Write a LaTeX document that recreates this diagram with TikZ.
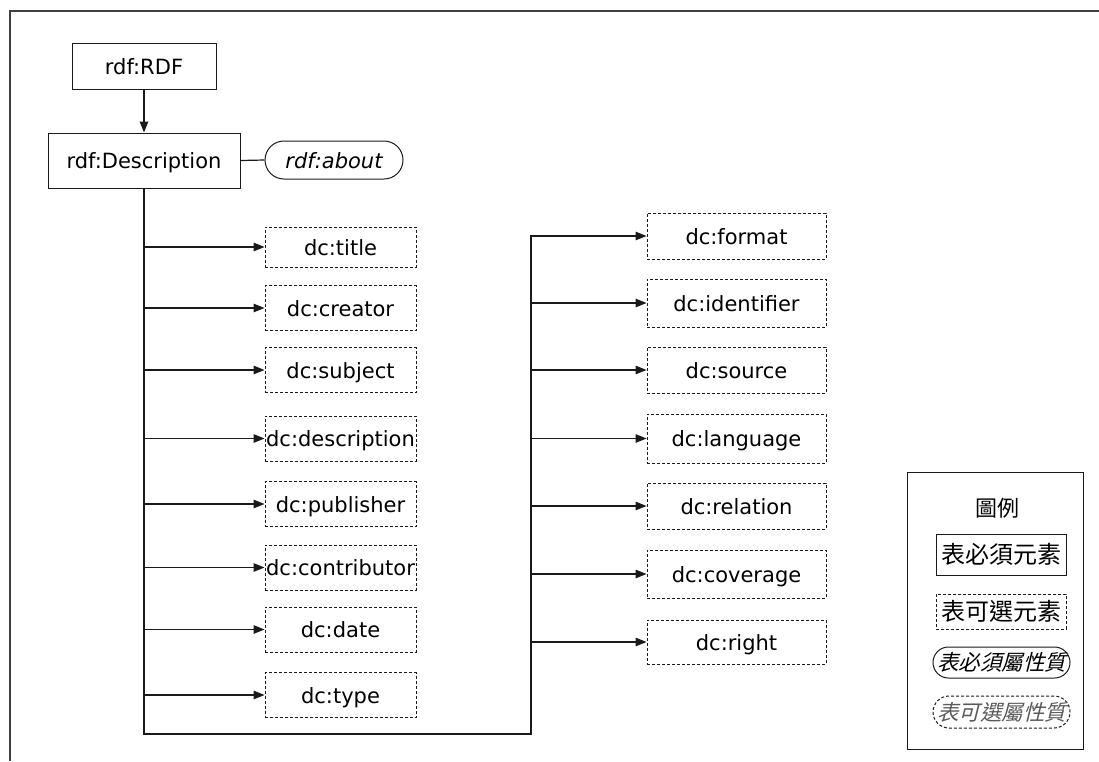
\documentclass[tikz,border=0pt]{standalone}
\usepackage{fontspec}
\setmainfont{DejaVu Sans}
\newfontfamily\cjk{Noto Sans CJK TC}
\newfontfamily\cjkit[FakeSlant=0.25]{Noto Sans CJK TC}
\usetikzlibrary{arrows.meta}
\definecolor{framec}{HTML}{404040}
\definecolor{lnc}{HTML}{1A1A1A}
\definecolor{greyt}{HTML}{5A5A5A}
\begin{document}
\begin{tikzpicture}[x=1pt,y=-1pt,
  every node/.style={inner sep=0pt, font=\fontsize{21}{25}\selectfont},
  lat/.style={text height=16pt, text depth=0pt},
  solidbox/.style={draw=lnc, line width=1pt, rectangle},
  optbox/.style={draw=lnc, line width=0.9pt, dash pattern=on 3pt off 2pt, rectangle},
  leftbox/.style={optbox, lat, minimum width=151pt, minimum height=45pt},
  rightbox/.style={optbox, lat, minimum width=179pt, minimum height=46pt},
  stadium/.style={draw=lnc, line width=1pt, rounded corners=16pt, rectangle},
  conn/.style={draw=lnc, line width=1.2pt},
  arr/.style={conn, -{Triangle[length=11pt,width=8.5pt]}},
]
\useasboundingbox (0,0) rectangle (1099,761);
% outer frame
\draw[framec, line width=2pt] (10,761) -- (10,11) -- (1099,11);

% top nodes
\node[solidbox, lat, minimum width=144pt, minimum height=46pt] (rdf) at (144,66) {rdf:RDF};
\node[solidbox, lat, minimum width=192pt, minimum height=55pt] (desc) at (144,160.5) {rdf:Description};
\node[stadium, lat, rounded corners=19pt, minimum width=138pt, minimum height=38pt] (about) at (334,160) {\itshape rdf:about};
\draw[arr] (rdf) -- (desc);
\draw[conn] (desc.east) -- (about.west);

% left column
\node[leftbox, minimum height=40pt] (title) at (340.5,247) {dc:title};
\node[leftbox] (creator) at (340.5,308) {dc:creator};
\node[leftbox] (subject) at (340.5,370) {dc:subject};
\node[leftbox] (description) at (340.5,438.5) {dc:description};
\node[leftbox] (publisher) at (340.5,504) {dc:publisher};
\node[leftbox] (contributor) at (340.5,567.5) {dc:contributor};
\node[leftbox] (date) at (340.5,629.5) {dc:date};
\node[leftbox] (type) at (340.5,695) {dc:type};

% right column
\node[rightbox] (format) at (736.5,236) {dc:format};
\node[rightbox, minimum height=48pt] (identifier) at (736.5,303) {dc:identifier};
\node[rightbox] (source) at (736.5,370) {dc:source};
\node[rightbox, minimum height=49pt] (language) at (736.5,438.5) {dc:language};
\node[rightbox] (relation) at (736.5,506) {dc:relation};
\node[rightbox, minimum height=48pt] (coverage) at (736.5,574) {dc:coverage};
\node[rightbox, minimum height=44pt] (dcright) at (736.5,642) {dc:right};

% trunk
\coordinate (tb) at (144,734);
\coordinate (rb) at (531,734);
\draw[arr] (desc.south) -- (tb) -- (rb) |- (format.west);
\foreach \n in {title,creator,subject,description,publisher,contributor,date,type}
  \draw[arr] (tb |- \n.west) -- (\n.west);
\foreach \n in {identifier,source,language,relation,coverage,dcright}
  \draw[arr] (rb |- \n.west) -- (\n.west);

% legend
\node[draw=lnc, line width=1pt, minimum width=176pt, minimum height=277pt] (legend) at (995,610.5) {};
\node[font=\cjk\fontsize{22}{26}\selectfont] (legtitle) at (997,508) {圖例};
\node[solidbox, minimum width=130pt, minimum height=41pt, font=\cjk\fontsize{24}{28}\selectfont] (lreq) at (1001,554.5) {表必須元素};
\node[optbox, minimum width=130pt, minimum height=35pt, font=\cjk\fontsize{24}{28}\selectfont] (lopt) at (1001,611.5) {表可選元素};
\node[stadium, minimum width=137pt, minimum height=31pt, rounded corners=15.5pt, font=\cjkit\fontsize{21.5}{25}\selectfont] (lreqa) at (1001.5,662.5) {表必須屬性質};
\node[stadium, dash pattern=on 3pt off 2pt, minimum width=137pt, minimum height=32pt, rounded corners=16pt, text=greyt, font=\cjkit\fontsize{21.5}{25}\selectfont] (lopta) at (1001.5,712) {表可選屬性質};
\end{tikzpicture}
\end{document}
